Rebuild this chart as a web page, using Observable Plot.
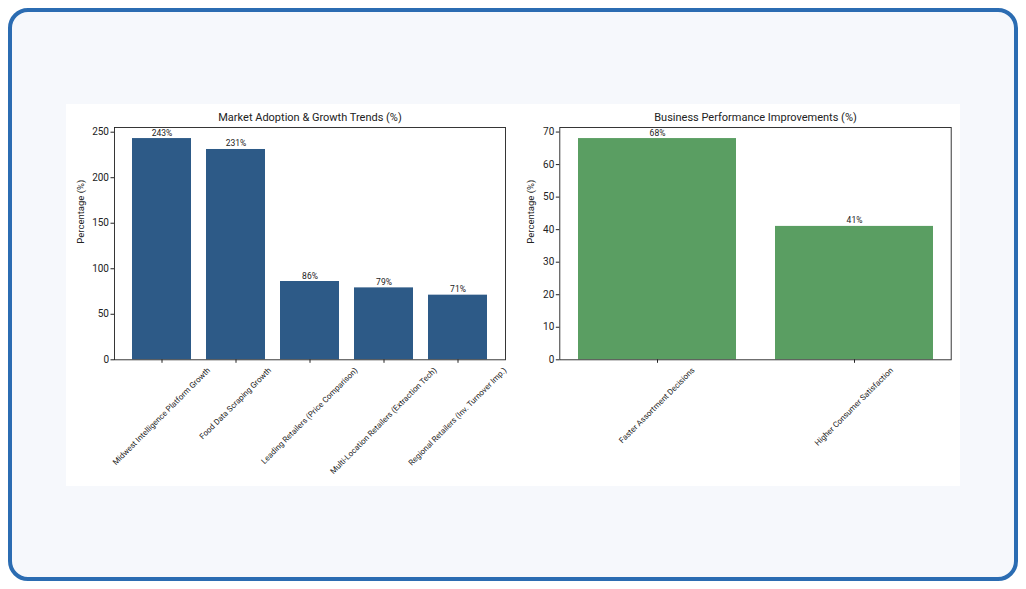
<!DOCTYPE html>
<html>
<head>
<meta charset="utf-8">
<script src="https://cdn.jsdelivr.net/npm/d3@7"></script>
<script src="https://cdn.jsdelivr.net/npm/@observablehq/plot@0.6"></script>
<style>
  html, body { margin: 0; padding: 0; background: #ffffff; }
  #card {
    position: absolute; left: 8px; top: 8px; width: 1010px; height: 573px;
    box-sizing: border-box; border: 4.5px solid #2b6cb2; border-radius: 20px;
    background: #f6f8fc;
  }
  #panel {
    position: absolute; left: 66px; top: 104px; width: 894px; height: 382px;
    background: #ffffff;
  }
  #panel svg { position: absolute; top: 0; display: block; }
</style>
</head>
<body>
<div id="card"></div>
<div id="panel"></div>
<script>
// Market adoption panel
const adoptionCategories = [
  "Midwest Intelligence Platform Growth",
  "Food Data Scraping Growth",
  "Leading Retailers (Price Comparison)",
  "Multi-Location Retailers (Extraction Tech)",
  "Regional Retailers (Inv. Turnover Imp.)"
];
const adoptionValues = [243, 231, 86, 79, 71];
const adoptionTicks = [0, 50, 100, 150, 200, 250];

// Business performance panel
const performanceCategories = [
  "Faster Assortment Decisions",
  "Higher Consumer Satisfaction"
];
const performanceValues = [68, 41];
const performanceTicks = [0, 10, 20, 30, 40, 50, 60, 70];

const FONT = "Roboto";
const LABEL_SIZE = 8;

// Measure label widths so rotated category labels can be centred under their ticks
const ctx = document.createElement("canvas").getContext("2d");
function textWidth(str, size) {
  ctx.font = `${size}px ${FONT}`;
  return ctx.measureText(str).width;
}

function panel({categories, values, ticks, title, color, left, marginLeft, marginRight, paddingOuter, yLabelDx}) {
  const rows = categories.map((c, i) => ({category: c, value: values[i]}));
  const yMax = d3.max(values) * 1.05;
  const width = 447, height = 382;

  // one rotated label per category, shifted so its bounding box is centred on the tick
  const tickLabels = categories.map(c => {
    const L = textWidth(c, LABEL_SIZE);
    return Plot.text([c], {
      x: d => d,
      frameAnchor: "bottom",
      text: d => d,
      rotate: -45,
      textAnchor: "end",
      lineAnchor: "top",
      fontSize: LABEL_SIZE,
      fill: "#222",
      dx: 0.354 * (L - LABEL_SIZE),
      dy: 7
    });
  });

  const svg = Plot.plot({
    width, height,
    marginTop: 23,
    marginBottom: 126.7,
    marginLeft, marginRight,
    style: {fontFamily: FONT, fontSize: "10px", color: "#222", background: "transparent"},
    x: {domain: categories, paddingInner: 0.2, paddingOuter, align: 0.5, axis: null},
    y: {domain: [0, yMax], axis: null},
    marks: [
      Plot.barY(rows, {x: "category", y: "value", fill: color}),
      Plot.frame({stroke: "#222", strokeWidth: 0.9}),
      Plot.axisY({ticks, tickSize: 3.5, tickPadding: 2, label: null, fontSize: 10}),
      Plot.axisX({tickSize: 3.5, tickFormat: () => "", label: null}),
      Plot.text(rows, {
        x: "category", y: "value", text: d => `${d.value}%`,
        lineAnchor: "bottom", dy: -3, fontSize: 8.5, fill: "#222"
      }),
      Plot.text([title], {
        frameAnchor: "top", text: d => d, lineAnchor: "bottom",
        dy: -7, fontSize: 11, fill: "#222"
      }),
      Plot.text(["Percentage (%)"], {
        frameAnchor: "left", text: d => d, rotate: -90,
        dx: yLabelDx, fontSize: 9.5, fill: "#222"
      }),
      ...tickLabels
    ]
  });
  svg.style.left = `${left}px`;
  return svg;
}

const host = document.getElementById("panel");
host.appendChild(panel({
  categories: adoptionCategories,
  values: adoptionValues,
  ticks: adoptionTicks,
  title: "Market Adoption & Growth Trends (%)",
  color: "#2d5a87",
  left: 0,
  marginLeft: 48,
  marginRight: 8,
  paddingOuter: 0.24,
  yLabelDx: -34
}));
host.appendChild(panel({
  categories: performanceCategories,
  values: performanceValues,
  ticks: performanceTicks,
  title: "Business Performance Improvements (%)",
  color: "#5a9e62",
  left: 447,
  marginLeft: 46.3,
  marginRight: 9.3,
  paddingOuter: 0.09,
  yLabelDx: -29
}));
</script>
</body>
</html>
